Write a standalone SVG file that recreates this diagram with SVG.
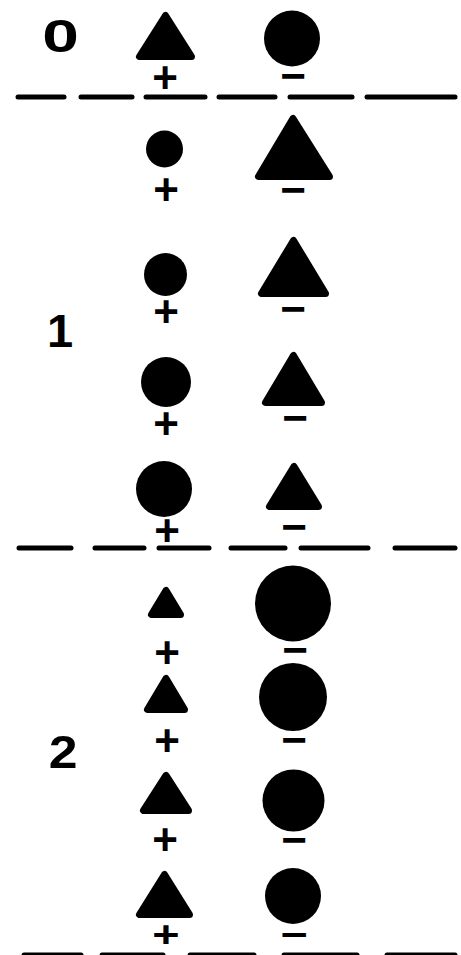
<svg xmlns="http://www.w3.org/2000/svg" width="461" height="955" viewBox="0 0 461 955">
<style>
.bg{fill:#fff}
.tri{fill:#000;stroke:#000;stroke-width:7;stroke-linejoin:round}
.dot{fill:#000}
.lvl{font-family:"Liberation Sans",Arial,sans-serif;font-weight:bold;font-size:47px;fill:#000;text-anchor:middle}
.sg{font-family:"Liberation Sans",Arial,sans-serif;font-weight:bold;font-size:44px;fill:#000;text-anchor:middle}
.sm{font-size:36px}
.sep{stroke:#000;stroke-width:5;stroke-linecap:round;fill:none}
</style>
<rect class="bg" x="0" y="0" width="461" height="955"/>
<g id="labels">
<text class="lvl" transform="translate(60.5,52) scale(1.4,1)" x="0" y="0">0</text>
<text class="lvl" x="60" y="347">1</text>
<text class="lvl" transform="translate(63,768) scale(1.1,1)" x="0" y="0">2</text>
</g>
<g id="connectors">
<g id="sep0">
<line class="sep" x1="18" y1="97" x2="64" y2="97"/>
<line class="sep" x1="81" y1="97" x2="132" y2="97"/>
<line class="sep" x1="146" y1="97" x2="205" y2="97"/>
<line class="sep" x1="219" y1="97" x2="275" y2="97"/>
<line class="sep" x1="290" y1="97" x2="352" y2="97"/>
<line class="sep" x1="367" y1="97" x2="455" y2="97"/>
</g>
<g id="sep1">
<line class="sep" x1="19" y1="548" x2="71" y2="548"/>
<line class="sep" x1="95" y1="548" x2="144" y2="548"/>
<line class="sep" x1="159" y1="548" x2="209" y2="548"/>
<line class="sep" x1="231" y1="548" x2="285" y2="548"/>
<line class="sep" x1="301" y1="548" x2="368" y2="548"/>
<line class="sep" x1="395" y1="548" x2="455" y2="548"/>
</g>
<g id="sep2">
<line class="sep" x1="24" y1="955" x2="81" y2="955"/>
<line class="sep" x1="102" y1="955" x2="163" y2="955"/>
<line class="sep" x1="190" y1="955" x2="254" y2="955"/>
<line class="sep" x1="284" y1="955" x2="357" y2="955"/>
<line class="sep" x1="387" y1="955" x2="455" y2="955"/>
</g>
</g>
<g id="row0">
<polygon class="tri" points="165.5,15.5 139.5,56.5 191.5,56.5"/>
<circle class="dot" cx="292" cy="38.5" r="28"/>
<text class="sg" x="165" y="93">+</text>
<text class="sg" x="293" y="91">−</text>
</g>
<g id="row1">
<circle class="dot" cx="164.5" cy="149" r="18.5"/>
<polygon class="tri" points="293,118.5 258.5,176.5 329.5,176.5"/>
<text class="sg" x="166" y="205">+</text>
<text class="sg" x="293" y="205">−</text>
</g>
<g id="row2">
<circle class="dot" cx="165.5" cy="274.5" r="21.5"/>
<polygon class="tri" points="293.5,240.5 261.5,293.5 325.5,293.5"/>
<text class="sg" x="166" y="327">+</text>
<text class="sg" x="293" y="324">−</text>
</g>
<g id="row3">
<circle class="dot" cx="166" cy="382" r="25"/>
<polygon class="tri" points="293.5,355.5 265.5,402.5 321.5,402.5"/>
<text class="sg" x="166" y="439">+</text>
<text class="sg" x="295" y="433">−</text>
</g>
<g id="row4">
<circle class="dot" cx="164" cy="489" r="28"/>
<polygon class="tri" points="294,466.5 269.5,506.5 318.5,506.5"/>
<text class="sg" x="167" y="546">+</text>
<text class="sg" x="294" y="542">−</text>
</g>
<g id="row5">
<polygon class="tri" points="166,590.5 151.5,614.5 180.5,614.5"/>
<circle class="dot" cx="293" cy="603.5" r="38"/>
<text class="sg" x="167" y="668">+</text>
<text class="sg" x="295" y="665">−</text>
</g>
<g id="row6">
<polygon class="tri" points="166,678.5 147.5,709.5 184.5,709.5"/>
<circle class="dot" cx="293" cy="697" r="34"/>
<text class="sg" x="167" y="756">+</text>
<text class="sg" x="294" y="755">−</text>
</g>
<g id="row7">
<polygon class="tri" points="166,775.5 143.5,810.5 188.5,810.5"/>
<circle class="dot" cx="293.5" cy="800.5" r="31"/>
<text class="sg" x="165" y="855">+</text>
<text class="sg" x="294" y="855">−</text>
</g>
<g id="row8">
<polygon class="tri" points="164.5,874.5 139.5,914.5 189.5,914.5"/>
<circle class="dot" cx="293" cy="896" r="28"/>
<text class="sg sm" transform="translate(166,947) scale(1.3,1)" x="0" y="0">+</text>
<text class="sg sm" transform="translate(294,947) scale(1.3,1)" x="0" y="0">−</text>
</g>
</svg>
